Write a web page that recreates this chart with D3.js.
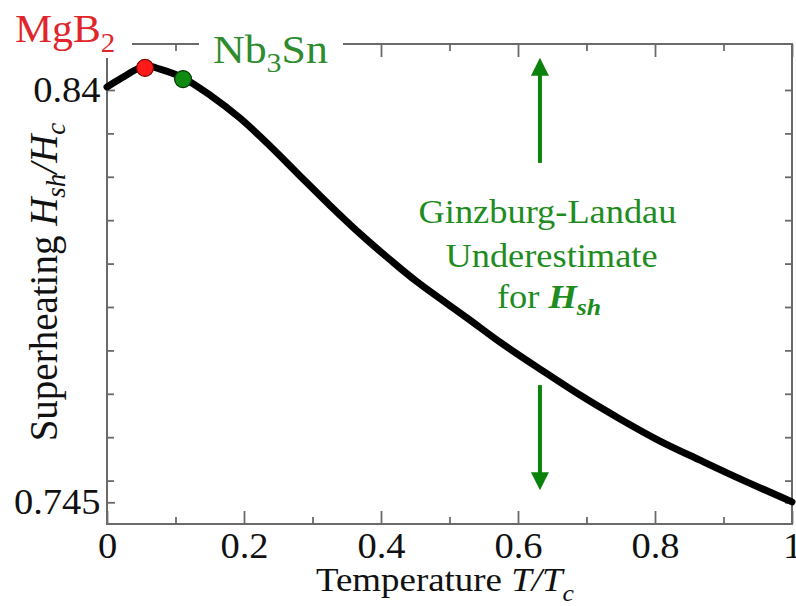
<!DOCTYPE html>
<html><head><meta charset="utf-8">
<script src="https://cdn.jsdelivr.net/npm/d3@7"></script>
<style>body{margin:0;background:#fff}svg{display:block}</style>
</head><body>
<svg id="c" width="796" height="606"></svg>
<script>
// Data
const tempValues = [0, 0.0219, 0.0438, 0.0584, 0.0774, 0.111, 0.1504, 0.1942, 0.238, 0.2818, 0.3255, 0.3693, 0.4131, 0.4526, 0.5255, 0.5737, 0.6321, 0.6905, 0.7489, 0.8073, 0.8657, 0.9241, 1.0];
const hshValues  = [0.8407, 0.8428, 0.8448, 0.8455, 0.8448, 0.8428, 0.8388, 0.8335, 0.8271, 0.8202, 0.8134, 0.8069, 0.8009, 0.7958, 0.7875, 0.7819, 0.7757, 0.7697, 0.7642, 0.7591, 0.7547, 0.7504, 0.7451];
const markerNames = ["MgB2", "Nb3Sn"];
const markerTemps = [0.0555, 0.111];
const markerValues = [0.8451, 0.8425];
const xMajorTicks = [0, 0.2, 0.4, 0.6, 0.8, 1];
const xMinorTicks = [0.1, 0.3, 0.5, 0.7, 0.9];
const yLabelTicks = [0.84, 0.745];
const yMinorTicks = [0.83, 0.82, 0.81, 0.80, 0.79, 0.78, 0.77, 0.76, 0.75];
const arrowT = 0.632;
const arrowUp = [0.8232, 0.8474];
const arrowDown = [0.7720, 0.7478];

const svg = d3.select("#c");
const FONT = "'Liberation Serif','Times New Roman',serif";
const SX = 1.07; // horizontal glyph stretch seen in the reference
const L = 107, R = 792, T = 44, B = 524;
const x = d3.scaleLinear().domain([0, 1]).range([L, R]);
const y = d3.scaleLinear().domain([0.74, 0.8505]).range([B, 44.4]);
const frameCol = "#6a6a6a";

function styleAxis(g, showText) {
  g.select(".domain").remove();
  g.selectAll(".tick line").attr("stroke", frameCol).attr("stroke-width", 1.8);
  g.selectAll("text").attr("font-family", FONT).attr("font-size", 36).attr("fill", "#111")
    .attr("transform", `scale(${SX},1)`);
  if (!showText) g.selectAll("text").remove();
}

// bottom
svg.append("g").attr("transform", `translate(0,${B})`)
  .call(d3.axisBottom(x).tickValues(xMajorTicks).tickSize(-13).tickPadding(8).tickFormat(d => String(d)))
  .call(g => styleAxis(g, true));
svg.append("g").attr("transform", `translate(0,${B})`)
  .call(d3.axisBottom(x).tickValues(xMinorTicks).tickSize(-7)).call(g => styleAxis(g, false));
// top
svg.append("g").attr("transform", `translate(0,${T})`)
  .call(d3.axisTop(x).tickValues(xMajorTicks).tickSize(-13)).call(g => styleAxis(g, false));
svg.append("g").attr("transform", `translate(0,${T})`)
  .call(d3.axisTop(x).tickValues(xMinorTicks).tickSize(-7)).call(g => styleAxis(g, false));
// left
svg.append("g").attr("transform", `translate(${L},0)`)
  .call(d3.axisLeft(y).tickValues(yLabelTicks).tickSize(-8).tickPadding(6).tickFormat(d => String(d)))
  .call(g => styleAxis(g, true));
svg.append("g").attr("transform", `translate(${L},0)`)
  .call(d3.axisLeft(y).tickValues(yMinorTicks).tickSize(-7)).call(g => styleAxis(g, false));
// right
svg.append("g").attr("transform", `translate(${R},0)`)
  .call(d3.axisRight(y).tickValues(yLabelTicks.concat(yMinorTicks)).tickSize(-7)).call(g => styleAxis(g, false));

// frame
svg.append("rect").attr("x", L).attr("y", T).attr("width", R - L).attr("height", B - T)
  .attr("fill", "none").attr("stroke", frameCol).attr("stroke-width", 2);

// curve
const pts = tempValues.map((t, i) => [t, hshValues[i]]);
svg.append("path").datum(pts)
  .attr("d", d3.line().x(d => x(d[0])).y(d => y(d[1])).curve(d3.curveCatmullRom.alpha(0.5)))
  .attr("fill", "none").attr("stroke", "#000").attr("stroke-width", 7)
  .attr("stroke-linejoin", "round").attr("stroke-linecap", "round");

// label backgrounds covering the frame
svg.append("rect").attr("x", 0).attr("y", 0).attr("width", 132).attr("height", 58).attr("fill", "#fff");
svg.append("rect").attr("x", 199).attr("y", 14).attr("width", 144).attr("height", 46).attr("fill", "#fff");

// markers
const mFill = ["#ff1a1a", "#118a11"], mStroke = ["#7a0000", "#053505"];
svg.selectAll("circle.m").data(markerTemps).join("circle").attr("class", "m")
  .attr("cx", d => x(d)).attr("cy", (d, i) => y(markerValues[i])).attr("r", 8.5)
  .attr("fill", (d, i) => mFill[i]).attr("stroke", (d, i) => mStroke[i]).attr("stroke-width", 1.2);

// helper: text positioned at (px,py) with horizontal stretch
function stretchedText(px, py, size, fill, anchor) {
  return svg.append("g").attr("transform", `translate(${px},${py}) scale(${SX},1)`)
    .append("text").attr("x", 0).attr("y", 0).attr("font-family", FONT).attr("font-size", size)
    .attr("fill", fill).attr("text-anchor", anchor || "start");
}

// MgB2 label
const t1 = stretchedText(15, 42, 39, "#e0262a");
t1.append("tspan").text("MgB");
t1.append("tspan").attr("font-size", 27).attr("dy", 10).text("2");
// Nb3Sn label
const t2 = stretchedText(213, 63, 41, "#2e8b2e");
t2.append("tspan").text("Nb");
t2.append("tspan").attr("font-size", 28).attr("dy", 9).text("3");
t2.append("tspan").attr("dy", -9).text("Sn");

// arrows
const green = "#0b820b";
function arrow(v0, v1) {
  const ax = x(arrowT), y0 = y(v0), y1 = y(v1);
  const dir = Math.sign(y1 - y0);
  const headLen = 18, headW = 9;
  svg.append("line").attr("x1", ax).attr("x2", ax).attr("y1", y0).attr("y2", y1 - dir * headLen + dir * 2)
    .attr("stroke", green).attr("stroke-width", 4);
  svg.append("path").attr("d", `M${ax},${y1} L${ax - headW},${y1 - dir * headLen} L${ax + headW},${y1 - dir * headLen} Z`)
    .attr("fill", green);
}
arrow(arrowUp[0], arrowUp[1]);
arrow(arrowDown[0], arrowDown[1]);

// annotation text
const annCol = "#1e8c1e";
stretchedText(547.5, 223, 34, annCol, "middle").text("Ginzburg-Landau");
stretchedText(551.5, 267, 34, annCol, "middle").text("Underestimate");
const a3 = stretchedText(549, 308, 34, annCol, "middle");
a3.append("tspan").text("for ");
a3.append("tspan").attr("font-weight", "bold").attr("font-style", "italic").text("H");
a3.append("tspan").attr("font-weight", "bold").attr("font-style", "italic").attr("font-size", 24).attr("dy", 7).text("sh");

// axis titles
const xt = stretchedText(316, 591, 34.5, "#111");
xt.append("tspan").text("Temperature ");
xt.append("tspan").attr("font-style", "italic").text("T/T");
xt.append("tspan").attr("font-style", "italic").attr("font-size", 24).attr("dy", 10).text("c");

const yt = svg.append("text").attr("transform", "translate(57,282) rotate(-90)").attr("text-anchor", "middle")
  .attr("font-family", FONT).attr("font-size", 39).attr("fill", "#111");
yt.append("tspan").text("Superheating ");
yt.append("tspan").attr("font-style", "italic").text("H");
yt.append("tspan").attr("font-style", "italic").attr("font-size", 27).attr("dy", 8).text("sh");
yt.append("tspan").attr("font-style", "italic").attr("dy", -8).text("/H");
yt.append("tspan").attr("font-style", "italic").attr("font-size", 27).attr("dy", 8).text("c");
</script>
</body></html>
